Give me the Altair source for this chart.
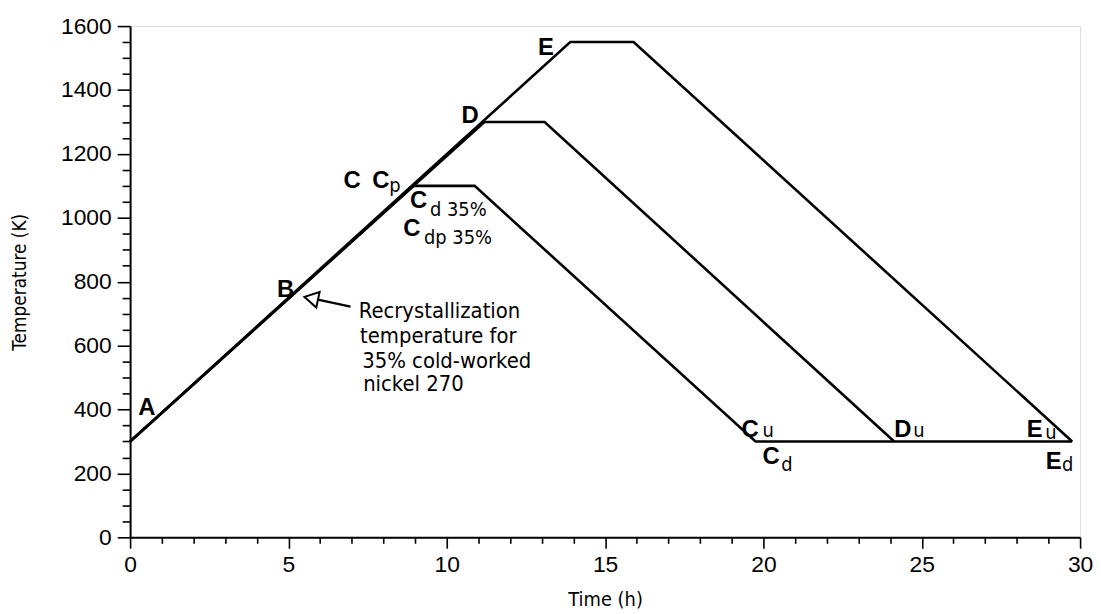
import altair as alt
import pandas as pd

# ---- data: anneal cycles (time in h, temperature in K) ----
series = ["C", "C", "C", "C", "C",
          "D", "D", "D", "D",
          "E", "E", "E", "E"]
time_h = [0.0, 8.95, 10.88, 19.75, 29.75,
          0.0, 11.19, 13.09, 24.13,
          0.0, 13.9, 15.9, 29.75]
temp_k = [300, 1100, 1100, 300, 300,
          300, 1300, 1300, 300,
          300, 1550, 1550, 300]
order = [0, 1, 2, 3, 4, 0, 1, 2, 3, 0, 1, 2, 3]

# bold point letters
big_text = ["A", "B", "C", "C", "C", "C", "D", "E", "C", "D", "E", "C", "E"]
big_t = [0.53, 4.91, 7.01, 7.92, 9.11, 8.90, 10.74, 13.13, 19.58, 24.40, 28.57, 20.24, 29.17]
big_T = [382, 753, 1094, 1094, 1031, 944, 1296, 1510, 314, 314, 314, 230, 214]

# subscripts
sub_text = ["p", "d 35%", "dp 35%", "u", "u", "u", "d", "d"]
sub_t = [8.18, 9.47, 9.28, 19.97, 24.73, 28.90, 20.56, 29.43]
sub_T = [1082, 1007, 919, 314, 314, 308, 209, 208]

# note
note_text = ["Recrystallization", "temperature for", "35% cold-worked", "nickel 270"]
note_t = [7.22, 7.26, 7.33, 7.36]
note_T = [687, 609, 531, 457]

# arrow (tail -> head base), head centre
arrow_t, arrow_T, arrow_t2, arrow_T2 = [5.93], [744], [6.96], [722]
head_t, head_T = [5.72], [748]

x_tick_values = list(range(0, 31))
y_tick_values = list(range(0, 1601, 50))

PLOT_FONT = "DejaVu Sans Condensed, Liberation Sans Narrow, DejaVu Sans"
LABEL_FONT = "Liberation Sans, Arial, Helvetica"

lines_df = pd.DataFrame({"series": series, "time": time_h, "temp": temp_k, "order": order})
big_df = pd.DataFrame({"time": big_t, "temp": big_T, "label": big_text})
sub_df = pd.DataFrame({"time": sub_t, "temp": sub_T, "label": sub_text})
note_df = pd.DataFrame({"time": note_t, "temp": note_T, "label": note_text})
arrow_df = pd.DataFrame({"t": arrow_t, "T": arrow_T, "t2": arrow_t2, "T2": arrow_T2})
head_df = pd.DataFrame({"t": head_t, "T": head_T})

xscale = alt.Scale(domain=[0, 30], nice=False, zero=False)
yscale = alt.Scale(domain=[0, 1600], nice=False)

x_axis = alt.Axis(
    values=x_tick_values, tickCount=200, format="d",
    labelExpr="datum.value % 5 === 0 ? datum.label : ''",
    tickSize={"condition": {"test": "datum.value % 5 === 0", "value": 11}, "value": 6},
    title="Time (h)",
    titleFont=PLOT_FONT, titleFontSize=20, titleFontWeight="normal",
    titleY=63, titleBaseline="middle",
    labelFont=LABEL_FONT, labelFontSize=23, labelPadding=5,
    labelColor="black", titleColor="black",
    tickColor="black", tickWidth=1.6, domainColor="black", domainWidth=2,
    grid=False, labelOverlap=False, labelFlush=False,
)
y_axis = alt.Axis(
    values=y_tick_values, tickCount=200, format="d",
    labelExpr="datum.value % 200 === 0 ? datum.label : ''",
    tickSize={"condition": {"test": "datum.value % 200 === 0", "value": 13}, "value": 8},
    title="Temperature (K)",
    titleFont=PLOT_FONT, titleFontSize=19, titleFontWeight="normal",
    titleX=-111, titleY=257.5, titleBaseline="middle", titleAngle=-90,
    labelFont=LABEL_FONT, labelFontSize=23, labelPadding=6,
    labelColor="black", titleColor="black",
    tickColor="black", tickWidth=1.6, domainColor="black", domainWidth=2,
    grid=False, labelOverlap=False, labelFlush=False,
)

lines = alt.Chart(lines_df).mark_line(color="black", strokeWidth=2.6, strokeJoin="miter").encode(
    x=alt.X("time:Q", scale=xscale, axis=x_axis),
    y=alt.Y("temp:Q", scale=yscale, axis=y_axis),
    detail="series:N",
    order="order:Q",
)

big = alt.Chart(big_df).mark_text(
    font=LABEL_FONT, fontWeight="bold", fontSize=24, align="center", baseline="alphabetic", color="black"
).encode(x=alt.X("time:Q", scale=xscale), y=alt.Y("temp:Q", scale=yscale), text="label:N")

sub = alt.Chart(sub_df).mark_text(
    font=PLOT_FONT, fontSize=20, align="left", baseline="alphabetic", color="black"
).encode(x=alt.X("time:Q", scale=xscale), y=alt.Y("temp:Q", scale=yscale), text="label:N")

note = alt.Chart(note_df).mark_text(
    font=PLOT_FONT, fontSize=22, align="left", baseline="alphabetic", color="black"
).encode(x=alt.X("time:Q", scale=xscale), y=alt.Y("temp:Q", scale=yscale), text="label:N")

shaft = alt.Chart(arrow_df).mark_rule(color="black", strokeWidth=2.2).encode(
    x=alt.X("t:Q", scale=xscale), y=alt.Y("T:Q", scale=yscale), x2="t2:Q", y2="T2:Q"
)

head = alt.Chart(head_df).mark_point(
    shape="triangle-up", filled=False, angle=282, size=256, color="black", strokeWidth=2, opacity=1
).encode(x=alt.X("t:Q", scale=xscale), y=alt.Y("T:Q", scale=yscale))

chart = alt.layer(lines, shaft, head, big, sub, note).properties(
    width=957, height=515,
    autosize=alt.AutoSizeParams(type="none"),
    padding={"left": 123, "top": 16, "right": 13, "bottom": 72},
).configure_view(stroke="black", strokeWidth=2).configure(background="white")

chart.save("out.html", embed_options={"renderer": "svg", "actions": False})
